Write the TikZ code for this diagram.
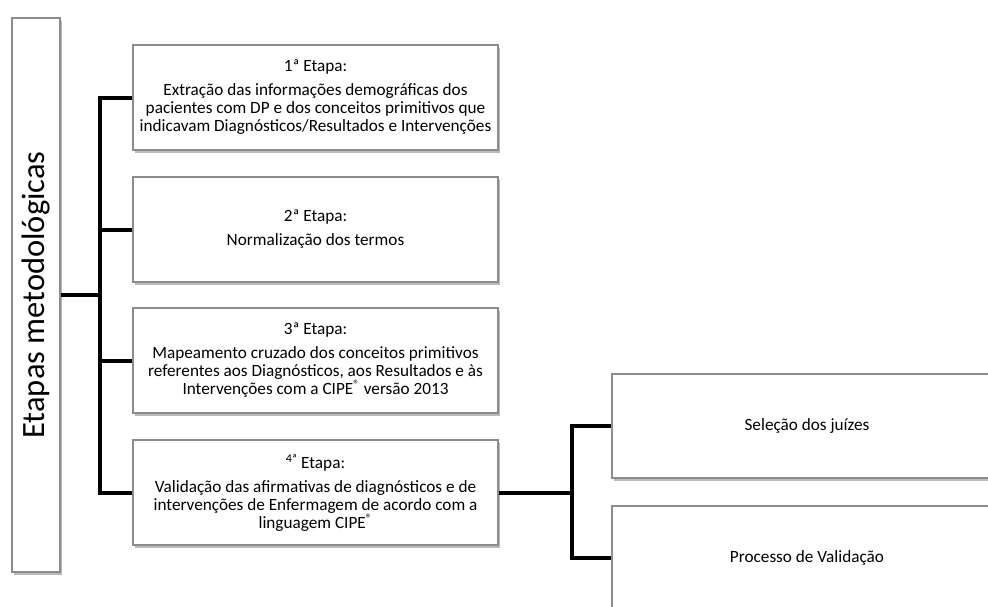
\documentclass[tikz,border=0pt]{standalone}
\usepackage{fontspec}
\setmainfont{Carlito}
\usetikzlibrary{shadows,calc}
\tikzset{
    caixa/.style={
        draw=black!45,
        line width=1.2pt,
        fill=white,
        drop shadow={shadow xshift=1.5pt, shadow yshift=-3pt, fill=black!45, opacity=.6},
        inner sep=0pt,
        align=center,
        font=\fontsize{17.2}{18}\selectfont,
    },
    etapa/.style={
        caixa,
        minimum width=365pt,
        minimum height=105pt,
    },
    subetapa/.style={
        caixa,
        minimum width=390pt,
        minimum height=104pt,
    },
    titulo/.style={
        caixa,
        minimum width=48pt,
        minimum height=554pt,
        font=\fontsize{32.5}{32.5}\selectfont,
    },
    ligacao/.style={
        draw=black,
        line width=4pt,
    },
}

\begin{document}
\begin{tikzpicture}[x=1pt, y=-1pt]
    \useasboundingbox (0,0) rectangle (988,606);
    \fill[white] (0,0) rectangle (988,606);
    \clip (0,0) rectangle (988,606);

    \node[titulo] (metodo) at (36,295) {\rotatebox{90}{Etapas metodológicas}};

    \node[etapa] (etapa1) at (315.5,97.5) {1ª Etapa:\\[6pt]
        Extração das informações demográficas dos\\
        pacientes com DP e dos conceitos primitivos que\\
        indicavam Diagnósticos/Resultados e Intervenções};
    \node[etapa] (etapa2) at (315.5,229.5) {2ª Etapa:\\[6pt]
        Normalização dos termos};
    \node[etapa] (etapa3) at (315.5,360.5) {3ª Etapa:\\[6pt]
        Mapeamento cruzado dos conceitos primitivos\\
        referentes aos Diagnósticos, aos Resultados e às\\
        Intervenções com a CIPE\textsuperscript{®} versão 2013};
    \node[etapa] (etapa4) at (315.5,492.5) {\textsuperscript{4ª} Etapa:\\[6pt]
        Validação das afirmativas de diagnósticos e de\\
        intervenções de Enfermagem de acordo com a\\
        linguagem CIPE\textsuperscript{®}};

    \node[subetapa] (selecao) at (807,426) {Seleção dos juízes};
    \node[subetapa] (processo) at (807,558) {Processo de Validação};

    % ramos
    \coordinate (tronco) at (100,295);
    \coordinate (ramo) at (572,492.5);
    \draw[ligacao] (metodo.east |- tronco) -- (tronco);
    \foreach \e in {etapa1,etapa2,etapa3,etapa4}
        \draw[ligacao] (\e.west) -| (tronco);
    \draw[ligacao] (etapa4.east) -- (ramo);
    \draw[ligacao] (selecao.west) -| (ramo);
    \draw[ligacao] (processo.west) -| (ramo);
\end{tikzpicture}
\end{document}
